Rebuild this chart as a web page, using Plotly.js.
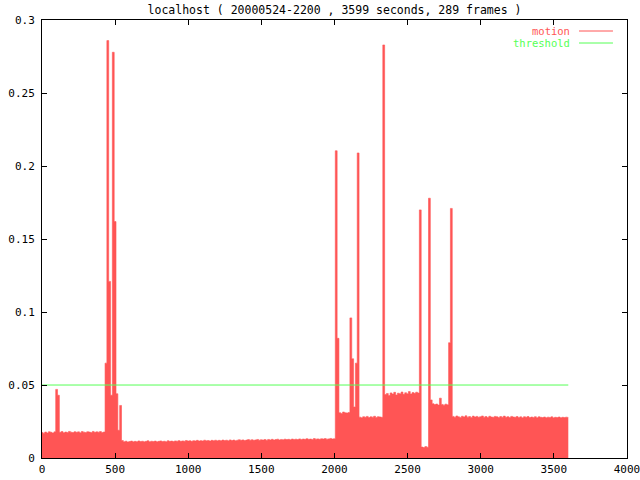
<!DOCTYPE html>
<html>
<head>
<meta charset="utf-8">
<script src="https://cdn.plot.ly/plotly-3.0.1.min.js"></script>
<style>html,body{margin:0;padding:0;background:#fff;}#chart{width:640px;height:480px;}</style>
</head>
<body>
<div id="chart"></div>
<script>
// ---- data (motion value per frame) ----
const durationSec = 3599;
const frameCount = 289;
const thresholdValue = 0.05;
const thresholdSpan = [0, 3599];
const xTickVals = [0, 500, 1000, 1500, 2000, 2500, 3000, 3500, 4000];
const xTickText = ["0", "500", "1000", "1500", "2000", "2500", "3000", "3500", "4000"];
const yTickVals = [0, 0.05, 0.1, 0.15, 0.2, 0.25, 0.3];
const yTickText = ["0", "0.05", "0.1", "0.15", "0.2", "0.25", "0.3"];

// frames 0-34
const motionStart = [0.0175,0.0170,0.0178,0.0172,0.0180,0.0176,0.0171,0.0179,0.047,0.043,
  0.0176,0.0181,0.0173,0.0178,0.0175,0.0182,0.0177,0.0174,0.0180,0.0176,
  0.0179,0.0173,0.0181,0.0177,0.0175,0.0180,0.0178,0.0174,0.0182,0.0176,
  0.0179,0.0177,0.0181,0.0175,0.0178];
// frames 35-44
const motionBurst1 = [0.065,0.286,0.121,0.043,0.278,0.162,0.044,0.019,0.036,0.012];
// frames 45-160
const motionQuiet = [0.0112,0.0115,0.0110,0.0113,0.0116,0.0111,0.0114,0.0112,0.0117,0.0113,
  0.0115,0.0111,0.0114,0.0118,0.0112,0.0115,0.0113,0.0116,0.0111,0.0114,
  0.0117,0.0113,0.0115,0.0112,0.0118,0.0114,0.0116,0.0113,0.0117,0.0115,
  0.0119,0.0114,0.0117,0.0115,0.0120,0.0116,0.0118,0.0114,0.0119,0.0117,
  0.0121,0.0116,0.0119,0.0117,0.0122,0.0118,0.0120,0.0116,0.0121,0.0119,
  0.0122,0.0118,0.0121,0.0119,0.0123,0.0120,0.0122,0.0118,0.0124,0.0120,
  0.0123,0.0119,0.0122,0.0125,0.0121,0.0124,0.0120,0.0123,0.0126,0.0122,
  0.0125,0.0121,0.0124,0.0127,0.0122,0.0125,0.0123,0.0126,0.0122,0.0127,
  0.0124,0.0128,0.0123,0.0126,0.0129,0.0124,0.0127,0.0125,0.0129,0.0126,
  0.0128,0.0125,0.0130,0.0127,0.0129,0.0126,0.0131,0.0127,0.0130,0.0128,
  0.0132,0.0128,0.0130,0.0127,0.0133,0.0129,0.0131,0.0128,0.0132,0.0130,
  0.0133,0.0129,0.0131,0.0134,0.0130,0.0132];
// frames 161-187
const motionBurst2 = [0.2105,0.082,0.031,0.0305,0.0315,0.031,0.0308,0.0312,
  0.096,0.068,0.035,0.065,0.209,
  0.0280,0.0276,0.0283,0.0279,0.0285,0.0277,0.0282,0.0280,0.0286,0.0278,0.0283,0.0281,0.0279,
  0.283];
// frames 188-206
const motionHigh = [0.0435,0.0442,0.0428,0.0446,0.0438,0.0450,0.0432,0.0444,0.0440,0.0452,
  0.0436,0.0447,0.0441,0.0455,0.0439,0.0448,0.0443,0.0451,0.0446];
// frames 207-224
const motionBurst3 = [0.170,0.0075,0.0072,0.0078,0.0074,0.178,
  0.0398,0.0372,0.0366,0.0370,0.0363,0.0410,0.0367,0.0362,0.0369,0.0364,
  0.079,0.171];
// frames 225-288
const motionEnd = [0.0285,0.0279,0.0288,0.0282,0.0278,0.0286,0.0281,0.0289,0.0280,0.0284,
  0.0278,0.0287,0.0281,0.0285,0.0279,0.0283,0.0288,0.0280,0.0284,0.0277,
  0.0286,0.0281,0.0279,0.0285,0.0282,0.0278,0.0284,0.0280,0.0287,0.0279,
  0.0283,0.0277,0.0285,0.0281,0.0279,0.0284,0.0278,0.0282,0.0276,0.0283,
  0.0279,0.0284,0.0277,0.0281,0.0278,0.0283,0.0276,0.0282,0.0279,0.0277,
  0.0281,0.0276,0.0280,0.0278,0.0282,0.0275,0.0279,0.0277,0.0281,0.0276,
  0.0279,0.0277,0.0280,0.0278];

const titleText = "localhost ( 20000524-2200 , 3599 seconds, 289 frames )";
const legendNames = ["motion", "threshold"];

// ---- build ----
const motion = [].concat(motionStart, motionBurst1, motionQuiet, motionBurst2, motionHigh, motionBurst3, motionEnd);
const frameTimes = motion.map((_, i) => i * durationSec / (frameCount - 1));

const RED = "rgb(255,85,85)";
const GREEN = "rgb(85,255,85)";
const FONT = {family: "DejaVu Sans Mono, Liberation Mono, monospace", size: 11, color: "#000"};

const traces = [
  {
    x: frameTimes, y: motion, type: "scatter", mode: "lines",
    line: {shape: "hvh", color: RED, width: 0.6},
    fill: "tozeroy", fillcolor: RED, name: legendNames[0], hoverinfo: "skip", cliponaxis: true
  },
  {
    x: thresholdSpan, y: [thresholdValue, thresholdValue], type: "scatter", mode: "lines",
    line: {color: GREEN, width: 1}, name: legendNames[1], hoverinfo: "skip"
  }
];

const axisCommon = {
  showgrid: false, zeroline: false, showline: true, linecolor: "#000", linewidth: 1,
  ticks: "inside", ticklen: 5, tickcolor: "#000", mirror: "ticks", tickfont: FONT,
  tickmode: "array", ticklabeloverflow: "allow"
};

const legY1 = (458 - 31) / 438;
const legY2 = (458 - 43) / 438;

const layout = {
  width: 640, height: 480,
  margin: {l: 42, r: 13, t: 20, b: 22, pad: 0},
  paper_bgcolor: "#fff", plot_bgcolor: "#fff",
  showlegend: false,
  title: {text: titleText, font: Object.assign({}, FONT, {size: 11.5}), x: 0.5, xref: "paper", y: 1 - 10/480, yref: "container", yanchor: "middle"},
  xaxis: Object.assign({}, axisCommon, {range: [0, 4000.5], tickvals: xTickVals, ticktext: xTickText, ticklabelstandoff: 1}),
  yaxis: Object.assign({}, axisCommon, {range: [0, 0.3001], tickvals: yTickVals, ticktext: yTickText, ticklabelstandoff: 4}),
  annotations: [
    {text: legendNames[0], xref: "paper", yref: "paper", x: 0.906, y: legY1, xanchor: "right", yanchor: "middle", showarrow: false, font: Object.assign({}, FONT, {size: 10.5, color: RED})},
    {text: legendNames[1], xref: "paper", yref: "paper", x: 0.906, y: legY2, xanchor: "right", yanchor: "middle", showarrow: false, font: Object.assign({}, FONT, {size: 10.5, color: GREEN})}
  ],
  shapes: [
    {type: "line", xref: "paper", yref: "paper", x0: 0.918, x1: 0.976, y0: legY1, y1: legY1, line: {color: RED, width: 1}},
    {type: "line", xref: "paper", yref: "paper", x0: 0.918, x1: 0.976, y0: legY2, y1: legY2, line: {color: GREEN, width: 1}}
  ]
};

Plotly.newPlot("chart", traces, layout, {displayModeBar: false, staticPlot: true});
</script>
</body>
</html>
